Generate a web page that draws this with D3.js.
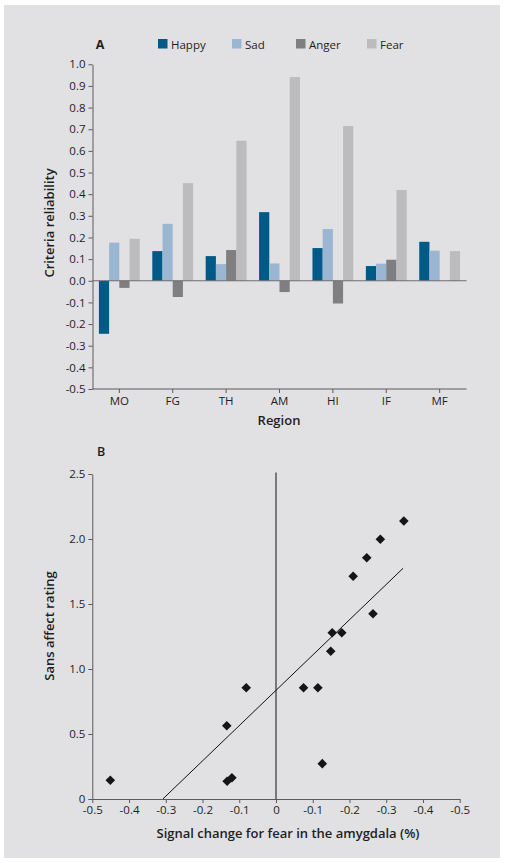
<!DOCTYPE html>
<html>
<head>
<meta charset="utf-8">
<script src="https://cdn.jsdelivr.net/npm/d3@7"></script>
<style>
  html, body { margin: 0; padding: 0; background: #ffffff; }
  svg { display: block; font-family: "Open Sans", "Noto Sans", sans-serif; }
</style>
</head>
<body>
<svg id="chart" width="506" height="867"></svg>
<script>
// ---------- Panel A data ----------
const regions = ["MO", "FG", "TH", "AM", "HI", "IF", "MF"];
const emotions = ["Happy", "Sad", "Anger", "Fear"];
const happy = [-0.245, 0.137, 0.114, 0.317, 0.151, 0.068, 0.180];
const sad   = [0.176, 0.263, 0.077, 0.080, 0.239, 0.079, 0.139];
const anger = [-0.033, -0.075, 0.142, -0.052, -0.105, 0.097, 0.0];
const fear  = [0.194, 0.451, 0.647, 0.941, 0.715, 0.419, 0.137];
const emotionColors = ["#005a87", "#9bb6d3", "#7f7f82", "#bcbcbe"];
const yTicksA = [1.0, 0.9, 0.8, 0.7, 0.6, 0.5, 0.4, 0.3, 0.2, 0.1, 0.0, -0.1, -0.2, -0.3, -0.4, -0.5];
const yTickLabelsA = ["1.0", "0.9", "0.8", "0.7", "0.6", "0.5", "0.4", "0.3", "0.2", "0.1", "0.0", "-0.1", "-0.2", "-0.3", "-0.4", "-0.5"];

// ---------- Panel B data ----------
const signalX = [-0.451, -0.134, -0.081, -0.133, -0.120, 0.075, 0.114, 0.126, 0.149, 0.153, 0.179, 0.210, 0.247, 0.284, 0.348, 0.264];
const affectY = [0.144, 0.564, 0.856, 0.136, 0.164, 0.856, 0.856, 0.272, 1.136, 1.279, 1.279, 1.713, 1.856, 1.998, 2.138, 1.425];
const fitSlope = 2.714;
const fitIntercept = 0.836;
const fitRange = [-0.308, 0.346];
const xTickValuesB = [-0.5, -0.4, -0.3, -0.2, -0.1, 0, 0.1, 0.2, 0.3, 0.4, 0.5];
const xTickLabelsB = ["-0.5", "-0.4", "-0.3", "-0.2", "-0.1", "0", "-0.1", "-0.2", "-0.3", "-0.4", "-0.5"];
const yTickValuesB = [0, 0.5, 1.0, 1.5, 2.0, 2.5];
const yTickLabelsB = ["0", "0.5", "1.0", "1.5", "2.0", "2.5"];

const FONT = '"Open Sans", "Noto Sans", sans-serif';
const svg = d3.select("#chart");
const textColor = "#1e1e1e";
const axisColor = "#5a5a5a";
const tickFont = 11.5;
const labelFont = 13;

// background panel
svg.append("rect").attr("x", 4).attr("y", 5).attr("width", 496).attr("height", 853).attr("fill", "#e1e1e3");

function styleAxis(g, xOff, yOff) {
  g.attr("font-family", FONT);
  g.select(".domain").attr("stroke", axisColor);
  g.selectAll(".tick line").attr("stroke", axisColor);
  const t = g.selectAll(".tick text").attr("fill", textColor).attr("font-size", tickFont);
  if (xOff !== null) t.attr("x", xOff);
  if (yOff !== null) t.attr("y", yOff);
}

// ================= Panel A =================
const A = { left: 92.5, right: 466.5, top: 64.3, bottom: 389 };
const x0 = d3.scaleBand().domain(regions).range([A.left, A.right]).paddingInner(0.235).paddingOuter(0.12);
const x1 = d3.scaleBand().domain(emotions).range([0, x0.bandwidth()]).padding(0);
const yA = d3.scaleLinear().domain([-0.5, 1.0]).range([A.bottom, A.top]);

const seriesA = [happy, sad, anger, fear];
const gA = svg.append("g");

regions.forEach((r, i) => {
  emotions.forEach((e, j) => {
    const v = seriesA[j][i];
    if (v === 0) return;
    gA.append("rect")
      .attr("x", x0(r) + x1(e))
      .attr("width", x1.bandwidth())
      .attr("y", yA(Math.max(0, v)))
      .attr("height", Math.abs(yA(v) - yA(0)))
      .attr("fill", emotionColors[j]);
  });
});

// zero line
gA.append("line")
  .attr("x1", A.left).attr("x2", A.right)
  .attr("y1", yA(0)).attr("y2", yA(0))
  .attr("stroke", "#6e6e70").attr("stroke-width", 1.2);

// y axis A
const yAxisA = d3.axisLeft(yA).tickValues(yTicksA).tickFormat((d, i) => yTickLabelsA[i]).tickSize(4).tickSizeOuter(0);
const gyA = svg.append("g").attr("transform", `translate(${A.left},0)`).call(yAxisA);
styleAxis(gyA, -7, null);

// x axis A
const xAxisA = d3.axisBottom(x0).tickSize(4).tickSizeOuter(0);
const gxA = svg.append("g").attr("transform", `translate(0,${A.bottom})`).call(xAxisA);
styleAxis(gxA, null, 8);
gxA.select(".domain").attr("d", `M${A.left},0H${A.right}`);

// titles A
svg.append("text").attr("x", 100).attr("y", 48.5).attr("text-anchor", "middle")
  .attr("font-size", 12.5).attr("font-weight", 700).attr("fill", textColor).text("A");
svg.append("text").attr("x", 279).attr("y", 425).attr("text-anchor", "middle")
  .attr("font-size", labelFont).attr("font-weight", 600).attr("fill", textColor).text("Region");
svg.append("text").attr("transform", "translate(54,223) rotate(-90)").attr("text-anchor", "middle")
  .attr("font-size", labelFont).attr("font-weight", 600).attr("fill", textColor).text("Criteria reliability");

// legend
const legendX = [158, 232, 296, 367];
emotions.forEach((e, j) => {
  const g = svg.append("g").attr("transform", `translate(${legendX[j]},39)`);
  g.append("rect").attr("width", 9.5).attr("height", 9.5).attr("fill", emotionColors[j]);
  g.append("text").attr("x", 13).attr("y", 9.5).attr("font-size", 11.5).attr("fill", textColor).text(e);
});

// ================= Panel B =================
const B = { left: 92.3, right: 459.7, top: 474, bottom: 799 };
const xB = d3.scaleLinear().domain([-0.5, 0.5]).range([B.left, B.right]);
const yB = d3.scaleLinear().domain([0, 2.5]).range([B.bottom, B.top]);

// vertical zero line
svg.append("line")
  .attr("x1", xB(0)).attr("x2", xB(0))
  .attr("y1", B.top - 1.5).attr("y2", B.bottom)
  .attr("stroke", "#111").attr("stroke-width", 1);

// regression line
svg.append("line")
  .attr("x1", xB(fitRange[0])).attr("y1", yB(fitSlope * fitRange[0] + fitIntercept))
  .attr("x2", xB(fitRange[1])).attr("y2", yB(fitSlope * fitRange[1] + fitIntercept))
  .attr("stroke", "#111").attr("stroke-width", 1);

// points
const diamond = d3.symbol().type(d3.symbolSquare).size(46);
svg.append("g").selectAll("path")
  .data(signalX.map((x, i) => [x, affectY[i]]))
  .join("path")
  .attr("d", diamond)
  .attr("transform", d => `translate(${xB(d[0])},${yB(d[1])}) rotate(45)`)
  .attr("fill", "#151515");

// axes B
const yAxisB = d3.axisLeft(yB).tickValues(yTickValuesB).tickFormat((d, i) => yTickLabelsB[i]).tickSize(4).tickSizeOuter(0);
const gyB = svg.append("g").attr("transform", `translate(${B.left},0)`).call(yAxisB);
styleAxis(gyB, -7, null);

const xAxisB = d3.axisBottom(xB).tickValues(xTickValuesB).tickFormat((d, i) => xTickLabelsB[i]).tickSize(4).tickSizeOuter(0);
const gxB = svg.append("g").attr("transform", `translate(0,${B.bottom})`).call(xAxisB);
styleAxis(gxB, null, 7);

svg.append("text").attr("x", 101).attr("y", 455.5).attr("text-anchor", "middle")
  .attr("font-size", 12.5).attr("font-weight", 600).attr("fill", textColor).text("B");
svg.append("text").attr("x", 288).attr("y", 838).attr("text-anchor", "middle")
  .attr("font-size", labelFont).attr("font-weight", 600).attr("fill", textColor).text("Signal change for fear in the amygdala (%)");
svg.append("text").attr("transform", "translate(54,626) rotate(-90)").attr("text-anchor", "middle")
  .attr("font-size", labelFont).attr("font-weight", 600).attr("fill", textColor).text("Sans affect rating");
</script>
</body>
</html>
